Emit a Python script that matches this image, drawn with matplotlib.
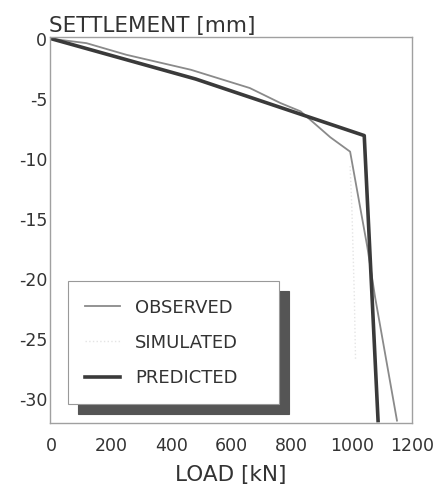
import matplotlib
matplotlib.use("Agg")
import matplotlib.pyplot as plt

# load [kN] vs settlement [mm]
obs_load = [0, 116, 249, 464, 660, 762, 829, 928, 994, 1051, 1077, 1150]
obs_settle = [0, -0.36, -1.33, -2.58, -4.1, -5.35, -6.04, -8.2, -9.4, -17.3, -21.5, -31.8]

sim_load = [994, 1000, 1008, 1012]
sim_settle = [-10.6, -14.2, -21.4, -26.7]

pred_load = [0, 480, 1041, 1087]
pred_settle = [0, -3.35, -8.06, -31.8]

xticks = [0, 200, 400, 600, 800, 1000, 1200]
yticks = [0, -5, -10, -15, -20, -25, -30]
ytick_labels = ["0", "-5", "-10", "-15", "-20", "-25", "-30"]

plt.rcParams["font.family"] = "DejaVu Sans"
fig = plt.figure(figsize=(4.33, 4.84), dpi=100)
ax = fig.add_axes([50/433, 61/484, 362/433, 386/484])

ax.plot(obs_load, obs_settle, color="#8a8a8a", lw=1.3, label="OBSERVED")
ax.plot(sim_load, sim_settle, color="#e4e4e4", lw=1.0, ls=":", label="SIMULATED")
ax.plot(pred_load, pred_settle, color="#3a3a3a", lw=2.6, label="PREDICTED")

ax.set_xlim(-5, 1200)
ax.set_ylim(-32, 0.15)
ax.set_xticks(xticks)
ax.set_yticks(yticks)
ax.set_yticklabels(ytick_labels)
ax.tick_params(length=0, labelsize=12.5, colors="#333333")
ax.tick_params(axis="x", pad=10)
ax.tick_params(axis="y", pad=2)
for s in ax.spines.values():
    s.set_color("#a0a0a0")
    s.set_linewidth(1.0)

leg = ax.legend(loc="lower left", bbox_to_anchor=(0.05, 0.049, 0.583, 0.3),
                mode="expand", fontsize=13, frameon=True, fancybox=False,
                edgecolor="#999999", facecolor="white", framealpha=1,
                shadow={"ox": 7, "oy": -7, "color": "#555555", "alpha": 1},
                handlelength=1.9, handletextpad=0.85, borderpad=0.95,
                labelspacing=0.95, borderaxespad=0)
for t in leg.get_texts():
    t.set_color("#333333")
leg.get_frame().set_linewidth(0.8)

fig.text(49/433, (484-32)/484, "SETTLEMENT [mm]", fontsize=15.5,
         color="#333333", ha="left", va="baseline")
fig.text(231/433, 3/484, "LOAD [kN]", fontsize=15.5,
         color="#333333", ha="center", va="baseline")

fig.savefig("out.png", dpi=100)
